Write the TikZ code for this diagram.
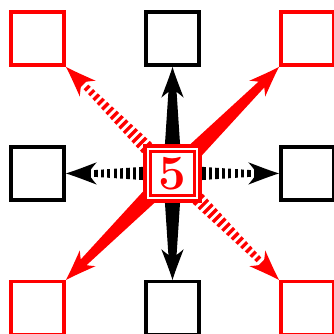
\documentclass[tikz,border=0pt]{standalone}
\usepackage{tikz}
\usetikzlibrary{calc, backgrounds}
\definecolor{alarm}{HTML}{FF0000}
\tikzset{
  box/.style={draw, line width=1.45pt, minimum size=0.79cm, inner sep=0pt},
  centre/.style={draw=alarm, double, line width=1.45pt, double distance=0.85pt, fill=white,
    minimum size=0.73cm, inner sep=0pt, text=alarm, font=\huge\bfseries}
}

\begin{document}
\begin{tikzpicture}
        \useasboundingbox (-2.556,-2.378) rectangle (2.393,2.570);
        \node[centre] (c) at (0,0) {5};
        \node[box] (n) at (0,2) {};
        \node[box] (s) at (0,-2) {};
        \node[box] (w) at (-2,0) {};
        \node[box] (e) at (2,0) {};
        \node[box, alarm] (nw) at (-2,2) {};
        \node[box, alarm] (ne) at (2,2) {};
        \node[box, alarm] (sw) at (-2,-2) {};
        \node[box, alarm] (se) at (2,-2) {};
        \begin{scope}[on background layer]
        \foreach \t/\a/\ang/\col in {n/south/90/black, s/north/-90/black, ne/south west/45/alarm, sw/north east/-135/alarm}{
          \coordinate (p) at ($(\t.\a)!10.2pt!(c.center)$);
          \fill[\col] ($(c.center)!4pt!90:(p)$) -- ($(p)!1.7pt!-90:(c.center)$) -- ($(p)!1.7pt!90:(c.center)$) -- ($(c.center)!4pt!-90:(p)$) -- cycle;
          \fill[\col, shift={(\t.\a)}, rotate=\ang] (0,0) .. controls (-4pt,1.2pt) and (-9pt,3.2pt) .. (-13pt,4.7pt)
            .. controls (-11.5pt,3pt) and (-10.8pt,2pt) .. (-10.5pt,1.6pt) -- (-10.5pt,-1.6pt)
            .. controls (-10.8pt,-2pt) and (-11.5pt,-3pt) .. (-13pt,-4.7pt) .. controls (-9pt,-3.2pt) and (-4pt,-1.2pt) .. cycle;
        }
        \foreach \t/\a/\ang/\col in {w/east/180/black, e/west/0/black, nw/south east/135/alarm, se/north west/-45/alarm}{
          \coordinate (p) at ($(\t.\a)!10.2pt!(c.center)$);
          \coordinate (q) at ($(\t.\a)!12pt!(c.center)$);
          \begin{scope}
            \clip ($(c.center)!3.6pt!90:(p)$) -- ($(p)!1.3pt!-90:(c.center)$) -- ($(p)!1.3pt!90:(c.center)$) -- ($(c.center)!3.6pt!-90:(p)$) -- cycle;
            \draw[\col, line width=12pt, dash pattern=on 1.4pt off 1.3pt] (q) -- (c.center);
          \end{scope}
          \fill[\col, shift={(\t.\a)}, rotate=\ang] (0,0) .. controls (-4pt,1.2pt) and (-9pt,3.2pt) .. (-13pt,4.7pt)
            .. controls (-11.5pt,3pt) and (-10.8pt,2pt) .. (-10.5pt,1.6pt) -- (-10.5pt,-1.6pt)
            .. controls (-10.8pt,-2pt) and (-11.5pt,-3pt) .. (-13pt,-4.7pt) .. controls (-9pt,-3.2pt) and (-4pt,-1.2pt) .. cycle;
        }
        \end{scope}
\end{tikzpicture}
\end{document}
